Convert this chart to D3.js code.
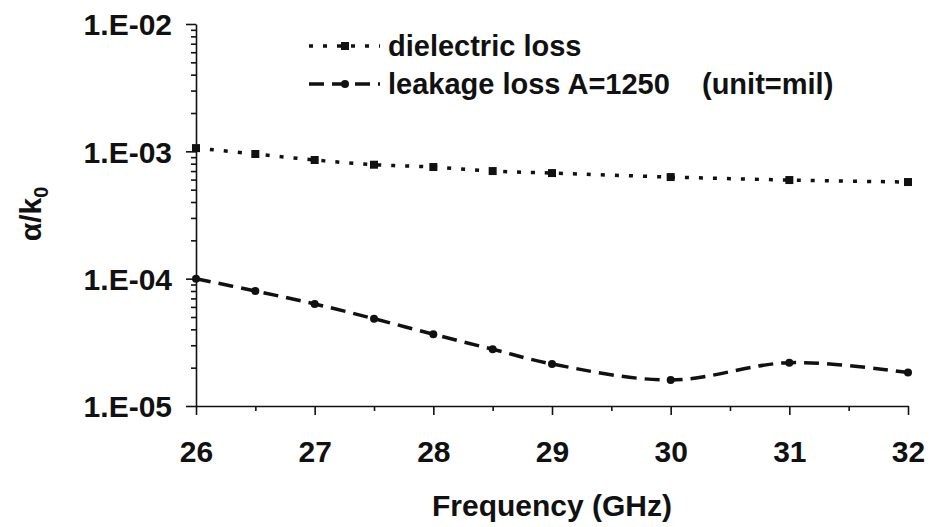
<!DOCTYPE html>
<html>
<head>
<meta charset="utf-8">
<script src="https://cdn.jsdelivr.net/npm/d3@7"></script>
<style>
  body { margin: 0; background: #fff; }
  svg text { font-family: "Liberation Sans", Arial, sans-serif; font-weight: bold; fill: #111; }
</style>
</head>
<body>
<div id="chart"></div>
<script>
const freq = [26, 26.5, 27, 27.5, 28, 28.5, 29, 30, 31, 32];
const dielectric = [1.06e-3, 0.953e-3, 0.855e-3, 0.785e-3, 0.753e-3, 0.70e-3, 0.675e-3, 0.628e-3, 0.595e-3, 0.574e-3];
const leakage = [1.0e-4, 0.80e-4, 0.633e-4, 0.485e-4, 0.366e-4, 0.279e-4, 0.214e-4, 0.16e-4, 0.219e-4, 0.183e-4];
const xTicks = [26, 27, 28, 29, 30, 31, 32];
const yTicks = [1e-5, 1e-4, 1e-3, 1e-2];
const yTickLabels = ["1.E-05", "1.E-04", "1.E-03", "1.E-02"];

const width = 930, height = 527;
const margin = { top: 24, right: 22, bottom: 121, left: 196 };

const svg = d3.select("#chart").append("svg")
  .attr("width", width)
  .attr("height", height);

const x = d3.scaleLinear().domain([26, 32]).range([margin.left, width - margin.right]);
const y = d3.scaleLog().domain([1e-5, 1e-2]).range([height - margin.bottom, margin.top]);

// minor ticks
const yMinor = [];
[1e-5, 1e-4, 1e-3].forEach(d => { for (let k = 2; k <= 9; k++) yMinor.push(d * k); });
const xMinor = d3.range(26.5, 32, 1);

const yAxisMinor = svg.append("g")
  .attr("transform", `translate(${margin.left},0)`)
  .call(d3.axisLeft(y).tickValues(yMinor).tickSize(5).tickFormat(""));
yAxisMinor.select(".domain").remove();

const yAxis = svg.append("g")
  .attr("transform", `translate(${margin.left},0)`)
  .call(d3.axisLeft(y).tickValues(yTicks).tickSize(10).tickSizeOuter(0).tickPadding(14)
    .tickFormat((d, i) => yTickLabels[i]));

const xAxisMinor = svg.append("g")
  .attr("transform", `translate(0,${height - margin.bottom})`)
  .call(d3.axisBottom(x).tickValues(xMinor).tickSize(5).tickFormat(""));
xAxisMinor.select(".domain").remove();

const xAxis = svg.append("g")
  .attr("transform", `translate(0,${height - margin.bottom})`)
  .call(d3.axisBottom(x).tickValues(xTicks).tickSize(9).tickSizeOuter(0).tickPadding(26)
    .tickFormat(d3.format("d")));

svg.selectAll(".domain, .tick line").attr("stroke", "#111").attr("stroke-width", 1.6);
svg.selectAll(".tick text").attr("font-size", 30).attr("font-family", null);
yAxis.selectAll(".tick text").attr("dy", "0.36em");

// axis titles
svg.append("text")
  .attr("x", (x(26) + x(32)) / 2)
  .attr("y", 516)
  .attr("text-anchor", "middle")
  .attr("font-size", 30)
  .text("Frequency (GHz)");

const yl = svg.append("text")
  .attr("transform", `translate(41,214) rotate(-90)`)
  .attr("text-anchor", "middle")
  .attr("font-size", 30);
yl.append("tspan").text("α/k");
yl.append("tspan").attr("font-size", 20).attr("dy", 7).text("0");

// series
const line = d3.line()
  .x((d, i) => x(freq[i]))
  .y(d => y(d))
  .curve(d3.curveCatmullRom.alpha(0.5));

svg.append("path")
  .datum(dielectric)
  .attr("d", line)
  .attr("fill", "none")
  .attr("stroke", "#111")
  .attr("stroke-width", 3.5)
  .attr("stroke-dasharray", "4,10");

svg.append("path")
  .datum(leakage)
  .attr("d", line)
  .attr("fill", "none")
  .attr("stroke", "#111")
  .attr("stroke-width", 3.5)
  .attr("stroke-dasharray", "15,8");

svg.append("g").selectAll("rect")
  .data(dielectric)
  .join("rect")
  .attr("x", (d, i) => x(freq[i]) - 4)
  .attr("y", d => y(d) - 4)
  .attr("width", 8)
  .attr("height", 8)
  .attr("fill", "#111");

svg.append("g").selectAll("circle")
  .data(leakage)
  .join("circle")
  .attr("cx", (d, i) => x(freq[i]))
  .attr("cy", d => y(d))
  .attr("r", 4)
  .attr("fill", "#111");

// legend
const legend = svg.append("g");
const lx0 = 309, lx1 = 380, lmx = 345, ltx = 388;
const row1 = 46, row2 = 84;

legend.append("line")
  .attr("x1", lx0).attr("x2", lx1).attr("y1", row1).attr("y2", row1)
  .attr("stroke", "#111").attr("stroke-width", 3.5).attr("stroke-dasharray", "4,10");
legend.append("rect")
  .attr("x", lmx - 4).attr("y", row1 - 4).attr("width", 8).attr("height", 8).attr("fill", "#111");
legend.append("text")
  .attr("x", ltx).attr("y", row1 + 10).attr("font-size", 29)
  .text("dielectric loss");

legend.append("line")
  .attr("x1", lx0).attr("x2", lx1).attr("y1", row2).attr("y2", row2)
  .attr("stroke", "#111").attr("stroke-width", 3.5).attr("stroke-dasharray", "15,8");
legend.append("circle")
  .attr("cx", lmx).attr("cy", row2).attr("r", 4).attr("fill", "#111");
legend.append("text")
  .attr("x", ltx).attr("y", row2 + 10).attr("font-size", 29)
  .text("leakage loss A=1250");
legend.append("text")
  .attr("x", 702).attr("y", row2 + 10).attr("font-size", 29)
  .text("(unit=mil)");
</script>
</body>
</html>
